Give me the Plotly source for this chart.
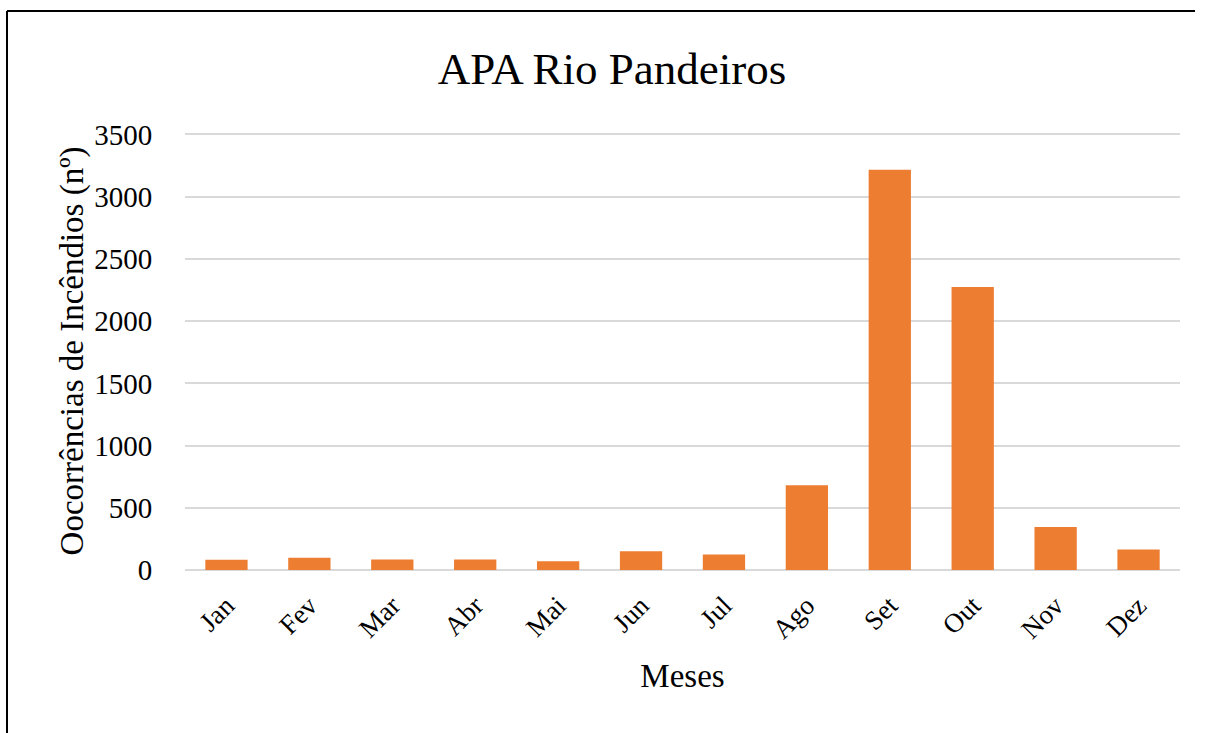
import plotly.graph_objects as go

# Monthly fire occurrences
meses = ["Jan", "Fev", "Mar", "Abr", "Mai", "Jun", "Jul", "Ago", "Set", "Out", "Nov", "Dez"]
ocorrencias = [82, 98, 84, 84, 70, 150, 125, 682, 3217, 2274, 345, 165]
y_ticks = [0, 500, 1000, 1500, 2000, 2500, 3000, 3500]

W, H = 1207, 733
Y_MAX = 3520
ML, MR, MB = 185, 27, 163
# top margin chosen so that the 3500 gridline sits at y=134
MT = round(134 - (Y_MAX - 3500) * (H - MB - 134) / 3500)
pw, ph = W - ML - MR, H - MT - MB

FONT = "Liberation Serif"


def px_x(x):
    return (x - ML) / pw


def px_y(y):
    return (H - MB - y) / ph


fig = go.Figure(go.Bar(
    x=meses, y=ocorrencias,
    marker=dict(color="#ED7D31", line=dict(width=0)),
    width=0.51,
))

# frame lines along the top and left edges of the figure
frame = dict(color="black", width=2)
fig.add_shape(type="line", xref="paper", yref="paper",
              x0=px_x(7), x1=px_x(W - 12), y0=px_y(11), y1=px_y(11), line=frame, layer="above")
fig.add_shape(type="line", xref="paper", yref="paper",
              x0=px_x(7), x1=px_x(7), y0=px_y(11), y1=px_y(H), line=frame, layer="above")

fig.update_layout(
    width=W, height=H,
    margin=dict(l=ML, r=MR, t=MT, b=MB),
    paper_bgcolor="white", plot_bgcolor="white",
    font=dict(family=FONT, color="#000000"),
    title=dict(text="APA Rio Pandeiros", x=px_x(612), xref="paper", xanchor="center",
               y=1 - 68 / H, yanchor="middle", font=dict(size=45, family=FONT)),
    showlegend=False,
    xaxis=dict(
        tickangle=-45, tickfont=dict(size=27, family=FONT),
        showgrid=False, showline=False, ticks="outside", ticklen=8,
        tickcolor="rgba(0,0,0,0)",
        title=dict(text="Meses", font=dict(size=33, family=FONT), standoff=20),
    ),
    yaxis=dict(
        range=[0, Y_MAX], tickvals=y_ticks, ticktext=[str(v) for v in y_ticks],
        tickfont=dict(size=29, family=FONT),
        showgrid=True, gridcolor="#d9d9d9", gridwidth=2,
        zeroline=True, zerolinecolor="#d9d9d9", zerolinewidth=2,
        showline=False, ticks="outside", ticklen=26, tickcolor="rgba(0,0,0,0)",
        title=dict(text="Oocorrências de Incêndios (nº)", font=dict(size=33, family=FONT), standoff=0),
    ),
)

fig.write_html("out.html")
